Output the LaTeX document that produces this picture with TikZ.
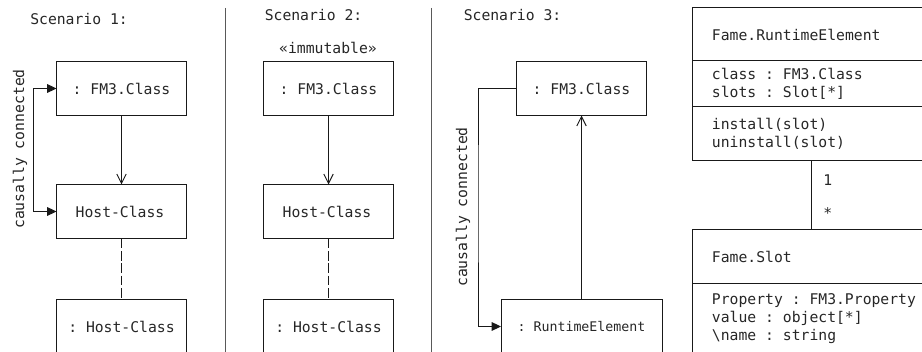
\documentclass[tikz,border=0pt]{standalone}
\usepackage{fontspec}
\setmainfont{DejaVu Sans Mono}
\usetikzlibrary{arrows.meta}
\tikzset{
  every node/.style={font=\fontsize{11.05}{13.5}\selectfont,text=black!85,execute at begin node={\spaceskip=6.652pt\relax\xspaceskip=6.652pt\relax}},
  line/.style={draw=black!90,line width=0.75pt},
  objbox/.style={line,rectangle,inner sep=0pt,outer sep=0pt,minimum width=97.5pt,minimum height=40.5pt,anchor=north west},
  wide/.style={objbox,minimum width=120.75pt,font=\fontsize{9.95}{13.5}\selectfont,execute at begin node={\spaceskip=5.99pt\relax\xspaceskip=5.99pt\relax}},
  comp/.style={line,rectangle,anchor=north west,outer sep=0pt,inner xsep=14.6pt,inner ysep=0pt,text width=170pt,align=left,minimum width=199.2pt},
  plain/.style={inner sep=0pt},
  openhead/.style={-{Straight Barb[length=7pt,width=7pt,line width=0.75pt]}},
  causal/.style={{Triangle[length=7pt,width=6.5pt]}-{Triangle[length=7pt,width=6.5pt]}},
  causalend/.style={-{Triangle[length=7pt,width=6.5pt]}},
  divider/.style={draw=black!65,line width=0.75pt},
  link/.style={dash pattern=on 7.3pt off 2pt}
}
\begin{document}
\begin{tikzpicture}[x=0.75pt,y=-0.75pt]
\useasboundingbox (0,0) rectangle (922,352);
\clip (0,0) rectangle (922,352);
% Scenario 1
\node[plain,anchor=west] (s1) at (30,19) {Scenario 1:};
\node[objbox] (a1) at (56.5,61.5) {: FM3.Class};
\node[objbox] (b1) at (56.5,184.5) {\kern-2.25pt Host-Class};
\node[objbox] (c1) at (56.5,299.5) {: Host-Class};
\draw[line,openhead] (a1) -- (b1);
\draw[line,link] (b1) -- (c1);
\coordinate (k1) at (33.5,150);
\draw[line,causal] (a1.west) -| (k1) |- (b1.west);
\node[plain,rotate=90] (l1) at (20,149) {causally connected};
% Divider 1
\coordinate (d1t) at (225,8); \coordinate (d1b) at (225,352);
\draw[divider] (d1t) -- (d1b);
% Scenario 2
\node[plain,anchor=west] (s2) at (264.5,15) {Scenario 2:};
\node[plain] (imm) at (328,48) {«immutable»};
\node[objbox] (a2) at (263.5,61.5) {: FM3.Class};
\node[objbox] (b2) at (263.5,184.5) {\kern-2.25pt Host-Class};
\node[objbox] (c2) at (263.5,299.5) {: Host-Class};
\draw[line,openhead] (a2) -- (b2);
\draw[line,link] (b2) -- (c2);
% Divider 2
\coordinate (d2t) at (431.5,8); \coordinate (d2b) at (431.5,352);
\draw[divider] (d2t) -- (d2b);
% Scenario 3
\node[plain,anchor=west] (s3) at (463.5,15) {Scenario 3:};
\node[objbox] (a3) at (516.5,61.5) {: FM3.Class};
\node[wide] (r3) at (501,299.5) {: RuntimeElement};
\draw[line,openhead] (r3.north -| a3.south) -- (a3.south);
\coordinate (k3) at (478,200);
\draw[line,causalend] (a3.west) -| (k3) |- (r3.west);
\node[plain,rotate=90] (l3) at (463,207) {causally connected};
% Class RuntimeElement
\node[comp,minimum height=39.75pt] (re1) at (692.5,8) {Fame.RuntimeElement};
\node[comp,minimum height=34.5pt] (re2) at (692.5,61) {class : FM3.Class\\slots : Slot[*]};
\node[comp,minimum height=40.5pt] (re3) at (692.5,107) {install(slot)\\uninstall(slot)};
% Class Slot
\node[comp,minimum height=40.5pt] (sl1) at (692.5,230) {Fame.Slot};
\node[comp,minimum height=52.5pt] (sl2) at (692.5,284) {Property : FM3.Property\\value : object[*]\\\textbackslash name : string};
\coordinate (con) at (811.5,195);
\draw[line] (re3.south -| con) -- (sl1.north -| con);
\node[plain,anchor=west] (m1) at (823,180) {1};
\node[plain,anchor=west] (m2) at (823,213) {*};
\end{tikzpicture}
\end{document}
